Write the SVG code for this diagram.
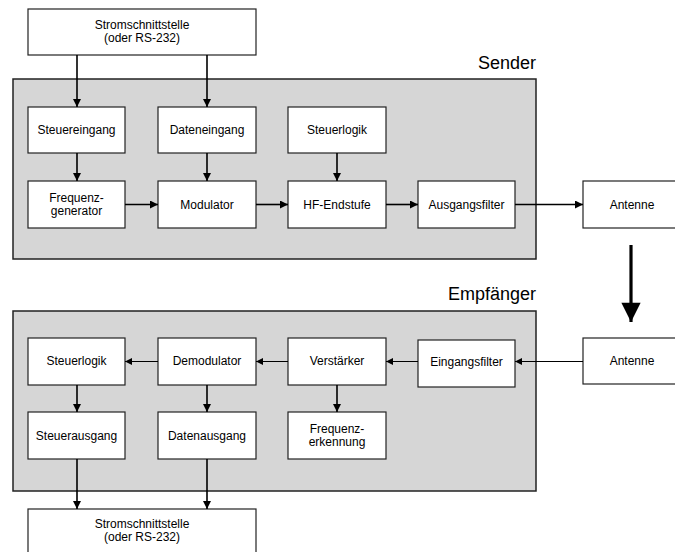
<svg xmlns="http://www.w3.org/2000/svg" width="675" height="552" viewBox="0 0 675 552">
<defs>
<style>
.grp{fill:#d6d6d6;stroke:#222;stroke-width:1.5}
.box{fill:#fff;stroke:#222;stroke-width:1.2}
.t{font-family:"Liberation Sans",Arial,sans-serif;font-size:12px;fill:#000;text-anchor:middle;dominant-baseline:central}
.lbl{font-family:"Liberation Sans",Arial,sans-serif;font-size:18px;fill:#000;text-anchor:end}
.c{stroke:#000;stroke-width:1.6;fill:none;marker-end:url(#ah)}
.c2{stroke:#000;stroke-width:1;fill:none;marker-end:url(#ah2)}
</style>
<marker id="ah" viewBox="0 0 10 10" refX="10" refY="5" markerWidth="5" markerHeight="5" markerUnits="strokeWidth" orient="auto">
<path d="M0,0 L10,5 L0,10 z" fill="#000"/>
</marker>
<marker id="ah2" viewBox="0 0 10 10" refX="10" refY="5" markerWidth="7" markerHeight="7" markerUnits="strokeWidth" orient="auto">
<path d="M0,0 L10,5 L0,10 z" fill="#000"/>
</marker>
<marker id="big" viewBox="0 0 10 10" refX="10" refY="5" markerWidth="6.5" markerHeight="6" markerUnits="strokeWidth" orient="auto">
<path d="M0,0 L10,5 L0,10 z" fill="#000"/>
</marker>
</defs>
<rect width="675" height="552" fill="#fff"/>

<g id="sender">
<rect class="grp" x="13" y="79" width="523" height="180"/>
<text class="lbl" x="536" y="69">Sender</text>
</g>
<g id="empfaenger">
<rect class="grp" x="13" y="311" width="523" height="180"/>
<text class="lbl" x="536" y="300">Empfänger</text>
</g>

<g id="top-interface"><rect class="box" x="28" y="9" width="228" height="46"/><text class="t" x="142" y="25">Stromschnittstelle</text><text class="t" x="142" y="38">(oder  RS-232)</text></g>

<g id="steuereingang"><rect class="box" x="28" y="107" width="97" height="46"/><text class="t" x="76.5" y="130">Steuereingang</text></g>
<g id="dateneingang"><rect class="box" x="158" y="107" width="98" height="46"/><text class="t" x="207" y="130">Dateneingang</text></g>
<g id="steuerlogik-s"><rect class="box" x="288" y="107" width="98" height="46"/><text class="t" x="337" y="130">Steuerlogik</text></g>

<g id="frequenzgenerator"><rect class="box" x="28" y="181" width="97" height="47"/><text class="t" x="76.5" y="198">Frequenz-</text><text class="t" x="76.5" y="211">generator</text></g>
<g id="modulator"><rect class="box" x="158" y="181" width="98" height="47"/><text class="t" x="207" y="204.5">Modulator</text></g>
<g id="hf-endstufe"><rect class="box" x="288" y="181" width="98" height="47"/><text class="t" x="337" y="204.5">HF-Endstufe</text></g>
<g id="ausgangsfilter"><rect class="box" x="418" y="181" width="97" height="47"/><text class="t" x="466.5" y="204.5">Ausgangsfilter</text></g>
<g id="antenne-s"><rect class="box" x="583" y="181" width="100" height="47"/><text class="t" x="632" y="204.5">Antenne</text></g>

<g id="antenne-e"><rect class="box" x="583" y="338" width="100" height="46"/><text class="t" x="632" y="361">Antenne</text></g>
<g id="eingangsfilter"><rect class="box" x="418" y="340" width="97" height="47"/><text class="t" x="466.5" y="362">Eingangsfilter</text></g>
<g id="verstaerker"><rect class="box" x="288" y="338" width="98" height="47"/><text class="t" x="337" y="361">Verstärker</text></g>
<g id="demodulator"><rect class="box" x="158" y="338" width="98" height="47"/><text class="t" x="207" y="361">Demodulator</text></g>
<g id="steuerlogik-e"><rect class="box" x="28" y="338" width="97" height="47"/><text class="t" x="76.5" y="361">Steuerlogik</text></g>

<g id="steuerausgang"><rect class="box" x="28" y="412" width="97" height="47"/><text class="t" x="76.5" y="435.5">Steuerausgang</text></g>
<g id="datenausgang"><rect class="box" x="158" y="412" width="98" height="47"/><text class="t" x="207" y="435.5">Datenausgang</text></g>
<g id="frequenzerkennung"><rect class="box" x="288" y="412" width="98" height="47"/><text class="t" x="337" y="429">Frequenz-</text><text class="t" x="337" y="442">erkennung</text></g>

<g id="bottom-interface"><rect class="box" x="28" y="509" width="228" height="50"/><text class="t" x="142" y="524">Stromschnittstelle</text><text class="t" x="142" y="537">(oder  RS-232)</text></g>

<g id="connectors">
<path class="c" d="M77,55 V107"/>
<path class="c" d="M207,55 V107"/>
<path class="c" d="M77,153 V181"/>
<path class="c" d="M207,153 V181"/>
<path class="c" d="M337,153 V181"/>
<path class="c" d="M125,204.5 H158"/>
<path class="c" d="M256,204.5 H288"/>
<path class="c" d="M386,204.5 H418"/>
<path class="c" d="M515,204.5 H583"/>
<path stroke="#000" stroke-width="3.2" fill="none" marker-end="url(#big)" d="M631,245 V322"/>
<path class="c2" d="M583,361.5 H515"/>
<path class="c2" d="M418,361.5 H386"/>
<path class="c2" d="M288,361.5 H256"/>
<path class="c2" d="M158,361.5 H125"/>
<path class="c" d="M77,385 V412"/>
<path class="c" d="M207,385 V412"/>
<path class="c" d="M337,385 V412"/>
<path class="c" d="M77,459 V509"/>
<path class="c" d="M207,459 V509"/>
</g>
</svg>
